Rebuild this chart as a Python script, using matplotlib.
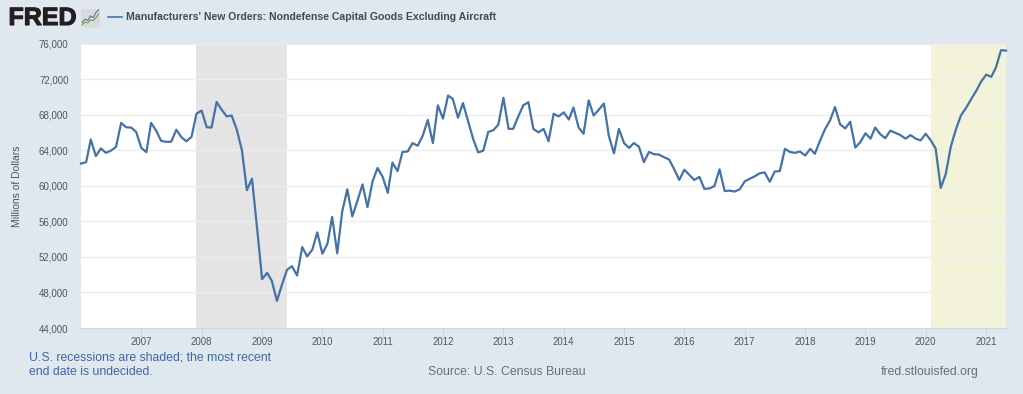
import matplotlib
matplotlib.use("Agg")
import matplotlib.pyplot as plt
import matplotlib.dates as mdates
import matplotlib.patheffects as pe
import pandas as pd
from matplotlib.lines import Line2D
from matplotlib.patches import FancyBboxPatch

plt.rcParams['font.family'] = ['Liberation Sans', 'DejaVu Sans']

W, H = 1023, 394
BG = '#DFE7EF'
LINE = '#4572A7'

values_2006 = [62500,62650,65200,63330,64200,63700,63950,64370,67070,66580,66540,66050]
values_2007 = [64260,63780,67070,66200,65050,64940,64950,66300,65450,65000,65500,68100]
values_2008 = [68450,66580,66550,69420,68560,67800,67900,66300,64000,59500,60800,55400]
values_2009 = [49500,50200,49300,47050,48850,50550,50950,49900,53100,52050,52800,54750]
values_2010 = [52350,53500,56500,52400,57100,59600,56550,58300,60150,57600,60500,62000]
values_2011 = [61000,59200,62600,61650,63800,63850,64800,64500,65650,67400,64800,69050]
values_2012 = [67550,70150,69750,67650,69300,67250,65300,63750,63950,66050,66250,66870]
values_2013 = [69900,66400,66400,67800,69050,69400,66400,66000,66400,65000,68100,67800]
values_2014 = [68250,67450,68800,66550,65850,69600,67900,68550,69250,65600,63650,66400]
values_2015 = [64800,64250,64800,64400,62650,63800,63550,63500,63200,62950,61850,60650]
values_2016 = [61800,61200,60650,61000,59650,59700,59950,61850,59400,59450,59350,59600]
values_2017 = [60500,60800,61050,61400,61500,60450,61600,61650,64150,63800,63700,63850]
values_2018 = [63400,64150,63600,65050,66350,67350,68850,66900,66450,67200,64300,64900]
values_2019 = [65900,65300,66550,65800,65350,66200,65950,65700,65300,65700,65300,65100]
values_2020 = [65850,65100,64200,59750,61300,64400,66300,67900,68750,69700,70650,71700]
values_2021 = [72500,72250,73300,75250,75200]

orders = (values_2006 + values_2007 + values_2008 + values_2009 + values_2010 +
          values_2011 + values_2012 + values_2013 + values_2014 + values_2015 +
          values_2016 + values_2017 + values_2018 + values_2019 + values_2020 +
          values_2021)
dates = pd.date_range('2006-01-01', periods=len(orders), freq='MS')

y_ticks = [44000, 48000, 52000, 56000, 60000, 64000, 68000, 72000, 76000]
x_years = list(range(2007, 2022))
recession_start, recession_end = '2007-12-01', '2009-06-01'
covid_start = '2020-02-01'

logo_blue = [1, 2, 1.6, 3, 2.4, 4, 4.8]
logo_green = [0.4, 1.1, 0.9, 1.8, 1.6, 2.4, 3.6]

fig = plt.figure(figsize=(W / 100, H / 100), dpi=100, facecolor=BG)

def fx(px): return px / W
def fy(py): return 1 - py / H

L, R, T, B = 81, 1006, 43.5, 328
ax = fig.add_axes([fx(L), fy(B), (R - L) / W, (B - T) / H], facecolor='white')
ax.plot(dates, orders, color=LINE, lw=1.6, solid_joinstyle='round', zorder=4, clip_on=False)
ax.set_xlim(dates[0], dates[-1])
ax.set_ylim(44000, 76000)
ax.axvspan(pd.Timestamp(recession_start), pd.Timestamp(recession_end), color='#E4E4E4', lw=0, zorder=1)
ax.axvspan(pd.Timestamp(covid_start), dates[-1], color='#F3F3DA', lw=0, zorder=1)

ax.set_yticks(y_ticks)
ax.set_yticklabels([f'{v:,}' for v in y_ticks], fontsize=7, color='#555555')
ax.grid(axis='y', color='#EDEDED', lw=1, zorder=2)
ax.set_axisbelow(False)
ax.set_xticks([pd.Timestamp(f'{y}-01-01') for y in x_years])
ax.xaxis.set_major_formatter(mdates.DateFormatter('%Y'))
ax.tick_params(axis='x', length=6.5, width=0.7, color='#CCD6EB', labelsize=6.9, labelcolor='#555555', pad=0.2)
ax.tick_params(axis='y', length=0, pad=9)
for side in ('top', 'left', 'right'):
    ax.spines[side].set_visible(False)
ax.spines['bottom'].set_color('#CCD6EB')
ax.spines['bottom'].set_linewidth(0.7)

fig.text(fx(17), fy(186), 'Millions of Dollars', rotation=90, ha='center', va='center',
         fontsize=7.5, color='#555555')

# header
fred = fig.text(fx(8.5), fy(18), 'FRED', fontsize=18, fontweight='bold', color='#231F20', ha='left', va='center')
fred.set_path_effects([pe.withStroke(linewidth=0.8, foreground='#231F20')])
logo = fig.add_axes([fx(81), fy(27.5), 19 / W, 19 / H])
logo.set_axis_off()
logo.add_patch(FancyBboxPatch((0.0, 0.0), 1.0, 1.0, boxstyle='round,pad=0,rounding_size=0.1',
                              transform=logo.transAxes, fc='#DADADA', ec='none'))
logo.plot(range(len(logo_blue)), logo_blue, color='#4F76A8', lw=0.8)
logo.plot(range(len(logo_green)), logo_green, color='#76A03C', lw=0.8)
logo.set_xlim(-0.5, 6.5)
logo.set_ylim(-0.5, 5.2)

fig.add_artist(Line2D([fx(108), fx(122)], [fy(17.3), fy(17.3)], color=LINE, lw=1.2, transform=fig.transFigure))
fig.text(fx(126.5), fy(17.3), "Manufacturers' New Orders: Nondefense Capital Goods Excluding Aircraft",
         fontsize=7.55, fontweight='bold', color='#4A4A4A', ha='left', va='center')

# footer
fig.text(fx(29), fy(357.3), 'U.S. recessions are shaded; the most recent', fontsize=8.85, color='#3F67A5', ha='left', va='center')
fig.text(fx(29), fy(372.3), 'end date is undecided.', fontsize=8.85, color='#3F67A5', ha='left', va='center')
fig.text(fx(428), fy(372.3), 'Source: U.S. Census Bureau', fontsize=8.85, color='#6E6E6E', ha='left', va='center')
fig.text(fx(881), fy(372.3), 'fred.stlouisfed.org', fontsize=8.85, color='#6E6E6E', ha='left', va='center')

fig.savefig('out.png', dpi=100, facecolor=BG)
